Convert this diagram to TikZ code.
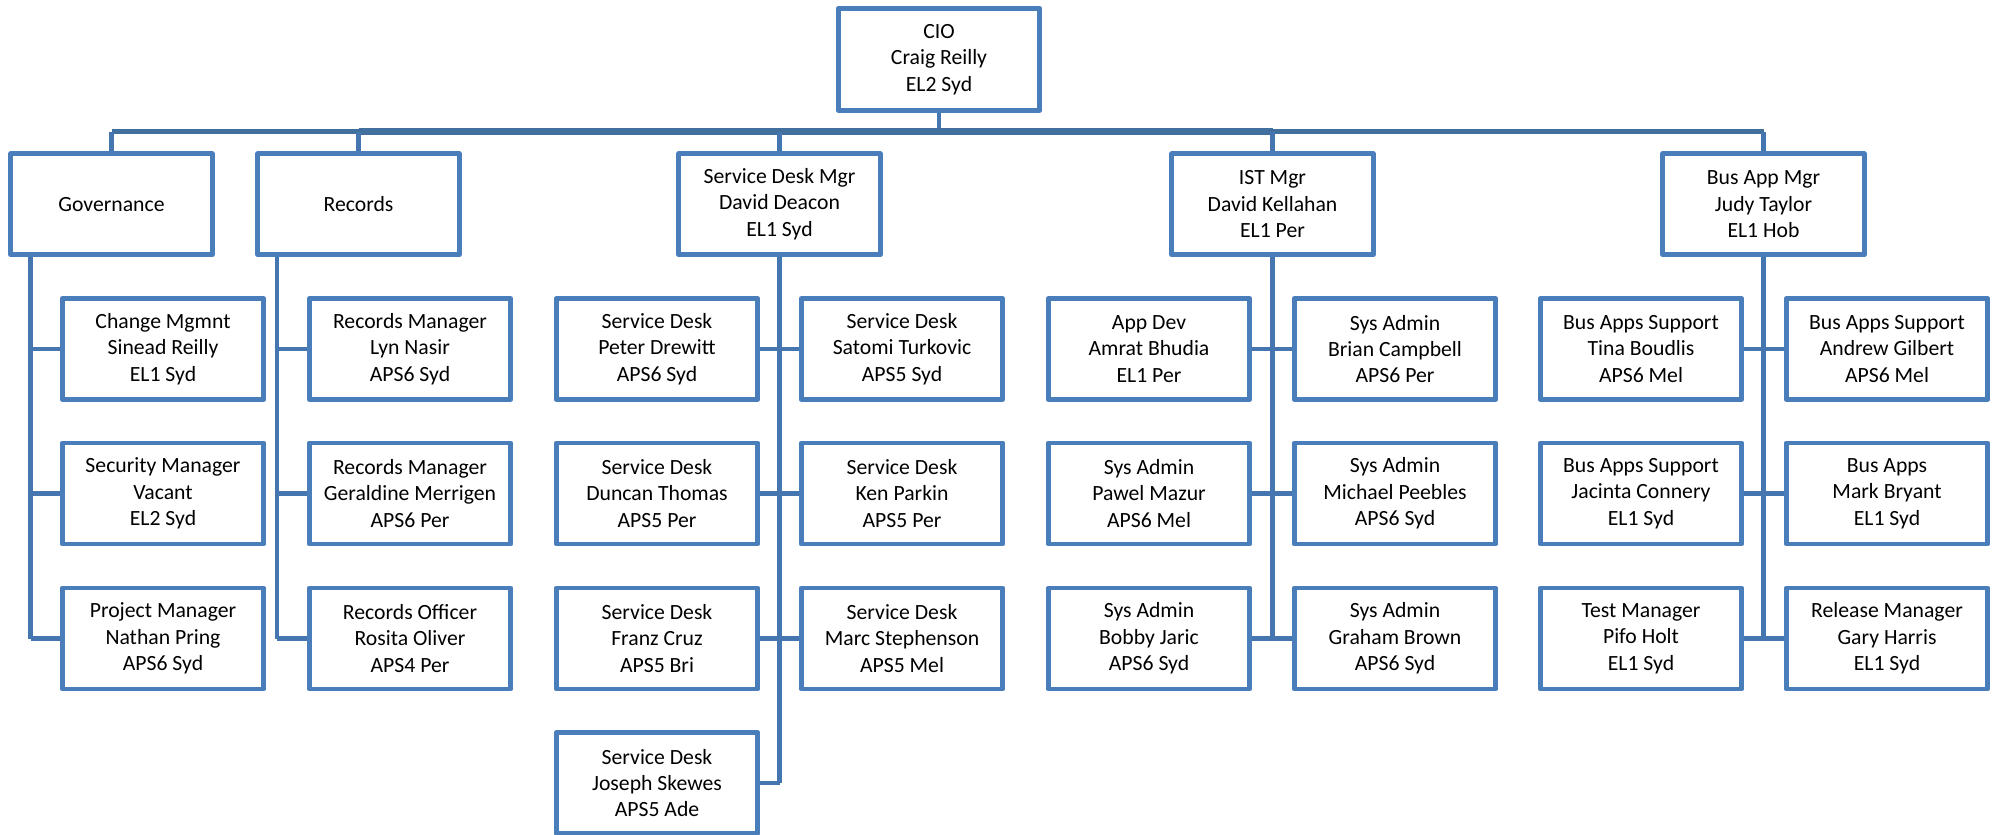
\documentclass[tikz,border=0pt]{standalone}
\usepackage{fontspec}
\setmainfont{Carlito}
\usetikzlibrary{backgrounds}
\definecolor{boxblue}{HTML}{4A7EBB}
\definecolor{linkblue}{HTML}{4676B0}
\definecolor{busblue}{HTML}{41709F}
\tikzset{
  unit/.style={draw=boxblue, line width=4.7pt, fill=white, line join=round,
    minimum width=201.5pt, minimum height=101pt, inner sep=0pt, align=center,
    font=\fontsize{21.7}{26.4}\selectfont, text=black},
  link/.style={draw=linkblue, line width=4.8pt},
  busmain/.style={draw=busblue, line width=6.6pt},
  busside/.style={draw=busblue, line width=4.6pt},
}
\begin{document}
\begin{tikzpicture}[x=1pt, y=-1pt]
\useasboundingbox (0,0) rectangle (2003,835);

% top of the tree
\node[unit, minimum height=102pt] (cio) at (939,59.4) {CIO\\Craig Reilly\\EL2 Syd};

% second level
\node[unit] (gov) at (111.5,204.2) {Governance};
\node[unit] (rec) at (358.5,204.2) {Records};
\node[unit] (sdm) at (779.5,204.2) {Service Desk Mgr\\David Deacon\\EL1 Syd};
\node[unit] (ist) at (1272.5,204.2) {IST Mgr\\David Kellahan\\EL1 Per};
\node[unit] (bam) at (1763.5,204.2) {Bus App Mgr\\Judy Taylor\\EL1 Hob};

% Governance team
\node[unit] (g1) at (163,349) {Change Mgmnt\\Sinead Reilly\\EL1 Syd};
\node[unit] (g2) at (163,493.5) {Security Manager\\Vacant\\EL2 Syd};
\node[unit] (g3) at (163,638.5) {Project Manager\\Nathan Pring\\APS6 Syd};

% Records team
\node[unit] (r1) at (410,349) {Records Manager\\Lyn Nasir\\APS6 Syd};
\node[unit] (r2) at (410,493.5) {Records Manager\\Geraldine Merrigen\\APS6 Per};
\node[unit] (r3) at (410,638.5) {Records Officer\\Rosita Oliver\\APS4 Per};

% Service Desk team
\node[unit] (s1) at (657,349) {Service Desk\\Peter Drewitt\\APS6 Syd};
\node[unit] (s2) at (902,349) {Service Desk\\Satomi Turkovic\\APS5 Syd};
\node[unit] (s3) at (657,493.5) {Service Desk\\Duncan Thomas\\APS5 Per};
\node[unit] (s4) at (902,493.5) {Service Desk\\Ken Parkin\\APS5 Per};
\node[unit] (s5) at (657,638.5) {Service Desk\\Franz Cruz\\APS5 Bri};
\node[unit] (s6) at (902,638.5) {Service Desk\\Marc Stephenson\\APS5 Mel};
\node[unit] (s7) at (657,783) {Service Desk\\Joseph Skewes\\APS5 Ade};

% IST team
\node[unit] (i1) at (1149,349) {App Dev\\Amrat Bhudia\\EL1 Per};
\node[unit] (i2) at (1395,349) {Sys Admin\\Brian Campbell\\APS6 Per};
\node[unit] (i3) at (1149,493.5) {Sys Admin\\Pawel Mazur\\APS6 Mel};
\node[unit] (i4) at (1395,493.5) {Sys Admin\\Michael Peebles\\APS6 Syd};
\node[unit] (i5) at (1149,638.5) {Sys Admin\\Bobby Jaric\\APS6 Syd};
\node[unit] (i6) at (1395,638.5) {Sys Admin\\Graham Brown\\APS6 Syd};

% Business applications team
\node[unit] (b1) at (1641,349) {Bus Apps Support\\Tina Boudlis\\APS6 Mel};
\node[unit] (b2) at (1887,349) {Bus Apps Support\\Andrew Gilbert\\APS6 Mel};
\node[unit] (b3) at (1641,493.5) {Bus Apps Support\\Jacinta Connery\\EL1 Syd};
\node[unit] (b4) at (1887,493.5) {Bus Apps\\Mark Bryant\\EL1 Syd};
\node[unit] (b5) at (1641,638.5) {Test Manager\\Pifo Holt\\EL1 Syd};
\node[unit] (b6) at (1887,638.5) {Release Manager\\Gary Harris\\EL1 Syd};

% trunk positions of the side-hung teams
\coordinate (bus) at (0,131.5);
\coordinate (gt) at (30.7,0);
\coordinate (rt) at (277,0);

\begin{scope}[on background layer]
  % bus from the CIO to the second level
  \draw[link] (cio.south) -- (cio.south |- bus);
  \draw[busside] (gov.north |- bus) -- (bam.north |- bus);
  \draw[busmain] (rec.north |- bus) -- (ist.north |- bus);
  \foreach \n in {gov,rec,sdm,ist,bam}
    \draw[link] (\n.north |- bus) -- (\n.north);

  % Governance
  \draw[link] (gov.south -| gt) -- (gt |- g3.west);
  \foreach \n in {g1,g2,g3} \draw[link] (gt |- \n.west) -- (\n.west);

  % Records
  \draw[link] (rec.south -| rt) -- (rt |- r3.west);
  \foreach \n in {r1,r2,r3} \draw[link] (rt |- \n.west) -- (\n.west);

  % Service Desk
  \draw[link] (sdm.south) -- (sdm.south |- s7.east);
  \foreach \n in {s1,s3,s5,s7} \draw[link] (\n.east) -- (sdm.south |- \n.east);
  \foreach \n in {s2,s4,s6} \draw[link] (sdm.south |- \n.west) -- (\n.west);

  % IST
  \draw[link] (ist.south) -- (ist.south |- i5.east);
  \foreach \n in {i1,i3,i5} \draw[link] (\n.east) -- (ist.south |- \n.east);
  \foreach \n in {i2,i4,i6} \draw[link] (ist.south |- \n.west) -- (\n.west);

  % Business applications
  \draw[link] (bam.south) -- (bam.south |- b5.east);
  \foreach \n in {b1,b3,b5} \draw[link] (\n.east) -- (bam.south |- \n.east);
  \foreach \n in {b2,b4,b6} \draw[link] (bam.south |- \n.west) -- (\n.west);
\end{scope}
\end{tikzpicture}
\end{document}
